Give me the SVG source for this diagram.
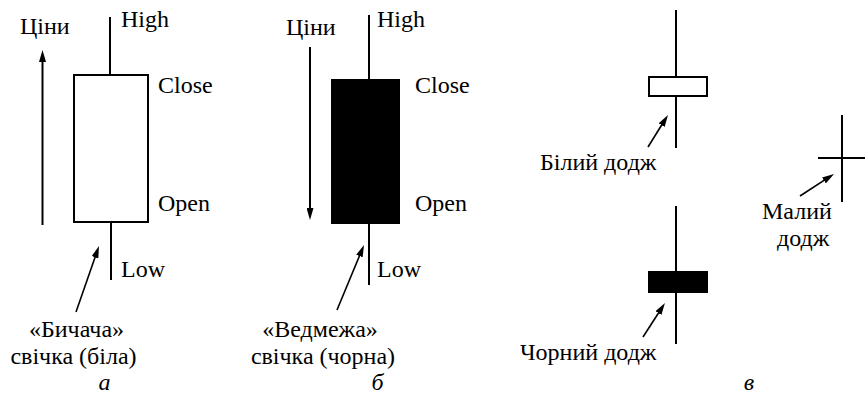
<svg xmlns="http://www.w3.org/2000/svg" width="865" height="405" viewBox="0 0 865 405">
  <defs>
    <marker id="head" viewBox="0 0 12 7" refX="6" refY="3.5" markerWidth="12" markerHeight="7" markerUnits="userSpaceOnUse" orient="auto">
      <path d="M0,0 L12,3.5 L0,7 Z" fill="#000"/>
    </marker>
    <style>
      .t { font-family: 'Liberation Serif', 'DejaVu Serif', 'Times New Roman', Times, serif; font-size: 24px; fill: #000; }
      .cap { font-style: italic; }
      .mid { text-anchor: middle; }
      .wick { stroke: #000; stroke-width: 2; fill: none; }
      .body-w { fill: #fff; stroke: #000; stroke-width: 2; }
      .body-b { fill: #000; stroke: #000; stroke-width: 2; }
      .arr { stroke: #000; stroke-width: 1.6; fill: none; marker-end: url(#head); }
      .trend { stroke: #000; stroke-width: 2; fill: none; marker-end: url(#head); }
    </style>
  </defs>
  <rect width="865" height="405" fill="#fff"/>

  <!-- (а) bullish candle -->
  <g id="bull-candle" class="t" font-family="Liberation Serif, DejaVu Serif, serif">
    <line class="wick" x1="110" y1="17" x2="110" y2="75"/>
    <line class="wick" x1="111" y1="222" x2="111" y2="280"/>
    <rect class="body-w" x="74" y="75" width="74" height="147"/>
    <text x="20" y="34">Ціни</text>
    <text x="121" y="27">High</text>
    <text x="158" y="93">Close</text>
    <text x="158" y="211">Open</text>
    <text x="121" y="277">Low</text>
    <text class="mid" x="76.5" y="337">«Бичача»</text>
    <text class="mid" x="73.5" y="364">свічка (біла)</text>
    <text class="cap mid" x="104.5" y="390">а</text>
  </g>

  <!-- (б) bearish candle -->
  <g id="bear-candle" class="t" font-family="Liberation Serif, DejaVu Serif, serif">
    <line class="wick" x1="369" y1="15" x2="369" y2="80"/>
    <line class="wick" x1="369" y1="223" x2="369" y2="285"/>
    <rect class="body-b" x="332" y="80" width="67" height="143"/>
    <text x="286" y="35">Ціни</text>
    <text x="377" y="27">High</text>
    <text x="415" y="93">Close</text>
    <text x="415" y="211">Open</text>
    <text x="377" y="277">Low</text>
    <text class="mid" x="320" y="337">«Ведмежа»</text>
    <text class="mid" x="323" y="364">свічка (чорна)</text>
    <text class="cap mid" x="377.5" y="390">б</text>
  </g>

  <!-- (в) doji variants -->
  <g id="white-doji" class="t" font-family="Liberation Serif, DejaVu Serif, serif">
    <line class="wick" x1="676" y1="10" x2="676" y2="148"/>
    <rect class="body-w" x="649" y="77" width="58" height="19"/>
    <text x="540" y="170">Білий додж</text>
  </g>
  <g id="black-doji" class="t" font-family="Liberation Serif, DejaVu Serif, serif">
    <line class="wick" x1="676" y1="206" x2="676" y2="344"/>
    <rect class="body-b" x="649" y="272" width="58" height="20"/>
    <text x="520" y="360">Чорний додж</text>
  </g>
  <g id="small-doji" class="t" font-family="Liberation Serif, DejaVu Serif, serif">
    <line class="wick" x1="842" y1="115" x2="842" y2="202"/>
    <line class="wick" x1="818" y1="158" x2="865" y2="158"/>
    <text x="762" y="219">Малий</text>
    <text x="777" y="246">додж</text>
  </g>
  <text id="label-v" class="t cap mid" font-family="Liberation Serif, DejaVu Serif, serif" x="749" y="390">в</text>

  <!-- price direction arrows and pointer arrows -->
  <g id="connectors">
    <line class="trend" x1="42.5" y1="225" x2="42.5" y2="56"/>
    <line class="trend" x1="310" y1="47" x2="310" y2="214"/>
    <line class="arr" x1="76" y1="312" x2="97" y2="251.7"/>
    <line class="arr" x1="337" y1="310" x2="361.7" y2="250.5"/>
    <line class="arr" x1="648" y1="147" x2="664.8" y2="120"/>
    <line class="arr" x1="643" y1="337" x2="661.7" y2="308"/>
    <line class="arr" x1="800" y1="196" x2="829" y2="177.2"/>
  </g>
</svg>
